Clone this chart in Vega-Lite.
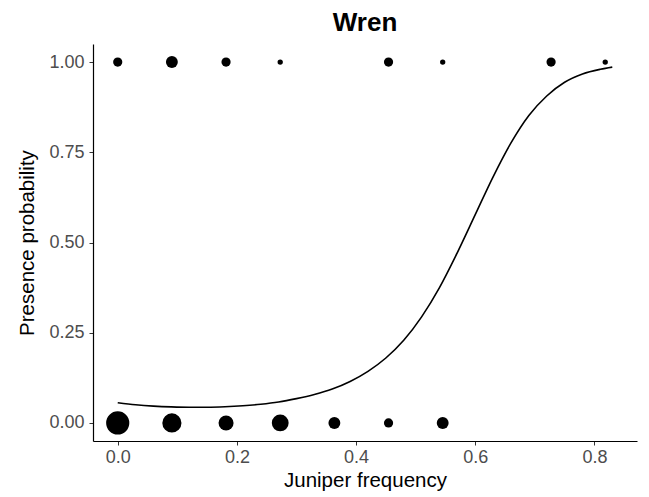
{
  "$schema": "https://vega.github.io/schema/vega-lite/v6.json",
  "autosize": {"type": "none"},
  "padding": {"left": 93, "top": 44, "right": 12, "bottom": 56},
  "width": 544,
  "height": 397,
  "background": "white",
  "title": {"text": "Wren", "fontSize": 26, "font": "Liberation Sans", "fontWeight": "bold", "color": "black", "anchor": "middle", "offset": 8},
  "config": {
    "view": {"stroke": null},
    "axis": {
      "grid": false,
      "domainColor": "black",
      "domainWidth": 1.2,
      "tickColor": "#333333",
      "tickSize": 4,
      "labelFont": "Liberation Sans",
      "labelFontSize": 18,
      "labelColor": "#4D4D4D",
      "titleFont": "Liberation Sans",
      "titleFontSize": 20.5,
      "titleFontWeight": "normal",
      "titleColor": "black"
    }
  },
  "datasets": {
    "obs": [
      {"juniper": 0.0, "presence": 1, "n": 3},
      {"juniper": 0.0909, "presence": 1, "n": 5},
      {"juniper": 0.1818, "presence": 1, "n": 3},
      {"juniper": 0.2727, "presence": 1, "n": 1},
      {"juniper": 0.4545, "presence": 1, "n": 3},
      {"juniper": 0.5454, "presence": 1, "n": 1},
      {"juniper": 0.7273, "presence": 1, "n": 3},
      {"juniper": 0.8182, "presence": 1, "n": 1},
      {"juniper": 0.0, "presence": 0, "n": 19},
      {"juniper": 0.0909, "presence": 0, "n": 13},
      {"juniper": 0.1818, "presence": 0, "n": 8},
      {"juniper": 0.2727, "presence": 0, "n": 10},
      {"juniper": 0.3636, "presence": 0, "n": 5},
      {"juniper": 0.4545, "presence": 0, "n": 3},
      {"juniper": 0.5454, "presence": 0, "n": 5}
    ],
    "fit": [
      {"juniper": 0.0, "p": 0.056},
      {"juniper": 0.03, "p": 0.0504},
      {"juniper": 0.06, "p": 0.0467},
      {"juniper": 0.09, "p": 0.0445},
      {"juniper": 0.12, "p": 0.0435},
      {"juniper": 0.15, "p": 0.0436},
      {"juniper": 0.18, "p": 0.0449},
      {"juniper": 0.21, "p": 0.0476},
      {"juniper": 0.24, "p": 0.0518},
      {"juniper": 0.27, "p": 0.0580},
      {"juniper": 0.30, "p": 0.0675},
      {"juniper": 0.33, "p": 0.079},
      {"juniper": 0.36, "p": 0.094},
      {"juniper": 0.39, "p": 0.115},
      {"juniper": 0.42, "p": 0.143},
      {"juniper": 0.45, "p": 0.180},
      {"juniper": 0.48, "p": 0.229},
      {"juniper": 0.51, "p": 0.294},
      {"juniper": 0.54, "p": 0.375},
      {"juniper": 0.57, "p": 0.472},
      {"juniper": 0.60, "p": 0.577},
      {"juniper": 0.63, "p": 0.682},
      {"juniper": 0.66, "p": 0.776},
      {"juniper": 0.69, "p": 0.852},
      {"juniper": 0.72, "p": 0.906},
      {"juniper": 0.75, "p": 0.944},
      {"juniper": 0.78, "p": 0.967},
      {"juniper": 0.81, "p": 0.980},
      {"juniper": 0.83, "p": 0.986}
    ]
  },
  "layer": [
    {
      "data": {"name": "obs"},
      "mark": {"type": "circle", "color": "black", "opacity": 1},
      "encoding": {
        "x": {"field": "juniper", "type": "quantitative", "scale": {"domain": [-0.0415, 0.8715], "nice": false, "zero": false},
              "axis": {"title": "Juniper frequency", "values": [0, 0.2, 0.4, 0.6, 0.8], "format": ".1f", "labelPadding": 3, "titlePadding": 4}},
        "y": {"field": "presence", "type": "quantitative", "scale": {"domain": [-0.05, 1.05], "nice": false, "zero": false},
              "axis": {"title": "Presence probability", "values": [0, 0.25, 0.5, 0.75, 1], "format": ".2f", "labelPadding": 5, "titlePadding": 11}},
        "size": {"field": "n", "type": "quantitative", "scale": {"type": "linear", "domain": [0, 19], "range": [0, 537]}, "legend": null}
      }
    },
    {
      "data": {"name": "fit"},
      "mark": {"type": "line", "color": "black", "strokeWidth": 1.6, "interpolate": "monotone"},
      "encoding": {
        "x": {"field": "juniper", "type": "quantitative"},
        "y": {"field": "p", "type": "quantitative"}
      }
    }
  ]
}
